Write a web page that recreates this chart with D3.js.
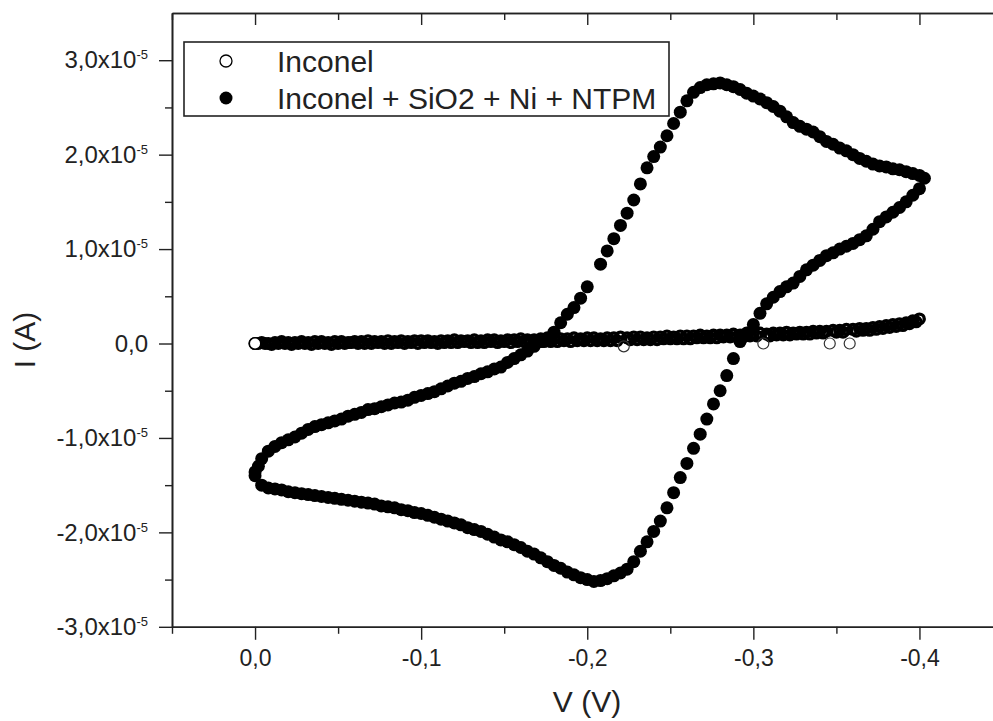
<!DOCTYPE html>
<html>
<head>
<meta charset="utf-8">
<script src="https://cdn.jsdelivr.net/npm/d3@7"></script>
<style>
body { margin: 0; background: #fff; }
svg { display: block; font-family: "Liberation Sans", Arial, sans-serif; }
</style>
</head>
<body>
<svg width="993" height="721"></svg>
<script>
// Current in units of 1e-5 A, potential in V. Pairs are [V, I].
const inconelForward = [
  [0, 0.00], [-0.004, 0.01], [-0.008, 0.00], [-0.012, 0.01], [-0.016, 0.02], [-0.020, 0.01], [-0.024, 0.01],
  [-0.028, 0.02], [-0.032, 0.01], [-0.036, 0.02], [-0.040, 0.02], [-0.044, 0.01], [-0.048, 0.02], [-0.052, 0.02],
  [-0.056, 0.01], [-0.060, 0.02], [-0.064, 0.02], [-0.068, 0.03], [-0.072, 0.02], [-0.076, 0.02], [-0.080, 0.03],
  [-0.084, 0.02], [-0.088, 0.03], [-0.092, 0.02], [-0.096, 0.03], [-0.100, 0.03], [-0.104, 0.03], [-0.108, 0.02],
  [-0.112, 0.03], [-0.116, 0.03], [-0.120, 0.04], [-0.124, 0.03], [-0.128, 0.03], [-0.132, 0.04], [-0.136, 0.03],
  [-0.140, 0.04], [-0.144, 0.04], [-0.148, 0.03], [-0.152, 0.04], [-0.156, 0.04], [-0.160, 0.05], [-0.164, 0.04],
  [-0.168, 0.04], [-0.172, 0.05], [-0.176, 0.04], [-0.180, 0.05], [-0.184, 0.05], [-0.188, 0.05], [-0.192, 0.06],
  [-0.196, 0.05], [-0.200, 0.06], [-0.204, 0.06], [-0.208, 0.05], [-0.212, 0.06], [-0.216, 0.06], [-0.220, 0.07],
  [-0.224, 0.06], [-0.228, 0.07], [-0.232, 0.07], [-0.236, 0.06], [-0.240, 0.07], [-0.244, 0.07], [-0.248, 0.08],
  [-0.252, 0.07], [-0.256, 0.08], [-0.260, 0.08], [-0.264, 0.08], [-0.268, 0.09], [-0.272, 0.08], [-0.276, 0.09],
  [-0.280, 0.09], [-0.284, 0.09], [-0.288, 0.10], [-0.292, 0.09], [-0.296, 0.10], [-0.300, 0.10], [-0.304, 0.11],
  [-0.308, 0.10], [-0.312, 0.11], [-0.316, 0.11], [-0.320, 0.12], [-0.324, 0.11], [-0.328, 0.12], [-0.332, 0.12],
  [-0.336, 0.13], [-0.340, 0.13], [-0.344, 0.13], [-0.348, 0.14], [-0.352, 0.14], [-0.356, 0.15], [-0.360, 0.15],
  [-0.364, 0.16], [-0.368, 0.16], [-0.372, 0.17], [-0.376, 0.18], [-0.380, 0.19], [-0.384, 0.20], [-0.388, 0.21],
  [-0.392, 0.22], [-0.396, 0.24], [-0.400, 0.26]
];
const inconelReverse = [
  [-0.398, 0.23], [-0.394, 0.21], [-0.390, 0.19], [-0.386, 0.18], [-0.382, 0.17], [-0.378, 0.16], [-0.374, 0.15],
  [-0.370, 0.14], [-0.366, 0.14], [-0.362, 0.13], [-0.354, 0.12], [-0.350, 0.12],
  [-0.342, 0.11], [-0.338, 0.11], [-0.334, 0.10], [-0.330, 0.10], [-0.326, 0.10], [-0.322, 0.09], [-0.318, 0.09],
  [-0.314, 0.09], [-0.310, 0.08], [-0.302, 0.08], [-0.298, 0.08], [-0.294, 0.07], [-0.290, 0.07],
  [-0.286, 0.07], [-0.282, 0.07], [-0.278, 0.06], [-0.274, 0.06], [-0.270, 0.06], [-0.266, 0.06], [-0.262, 0.05],
  [-0.258, 0.05], [-0.254, 0.05], [-0.250, 0.05], [-0.246, 0.05], [-0.242, 0.04], [-0.238, 0.04], [-0.234, 0.04],
  [-0.230, 0.04], [-0.226, 0.04], [-0.218, 0.03], [-0.214, 0.03], [-0.210, 0.03], [-0.206, 0.03],
  [-0.202, 0.03], [-0.198, 0.03], [-0.194, 0.03], [-0.190, 0.02], [-0.186, 0.03], [-0.182, 0.02], [-0.178, 0.02],
  [-0.174, 0.02], [-0.170, 0.02], [-0.166, 0.02], [-0.162, 0.02], [-0.158, 0.02], [-0.154, 0.01], [-0.150, 0.02],
  [-0.146, 0.01], [-0.142, 0.02], [-0.138, 0.01], [-0.134, 0.01], [-0.130, 0.01], [-0.126, 0.02], [-0.122, 0.01],
  [-0.118, 0.01], [-0.114, 0.01], [-0.110, 0.00], [-0.106, 0.01], [-0.102, 0.01], [-0.098, 0.00], [-0.094, 0.01],
  [-0.090, 0.00], [-0.086, 0.01], [-0.082, 0.00], [-0.078, 0.00], [-0.074, 0.01], [-0.070, 0.00], [-0.066, 0.00],
  [-0.062, 0.00], [-0.058, 0.01], [-0.054, 0.00], [-0.050, 0.00], [-0.046, -0.01], [-0.042, 0.00], [-0.038, 0.00],
  [-0.034, -0.01], [-0.030, 0.00], [-0.026, 0.00], [-0.022, -0.01], [-0.018, 0.00], [-0.014, 0.00], [-0.010, -0.01],
  [-0.006, 0.00], [-0.002, 0.00]
];
// stray Inconel points sitting just under the band
const inconelStray = [[-0.222, -0.03], [-0.306, 0.00], [-0.346, 0.00], [-0.358, 0.00]];

const ntpmForward = [
  [0, -1.40], [-0.004, -1.50], [-0.008, -1.53], [-0.012, -1.54], [-0.016, -1.55], [-0.020, -1.57], [-0.024, -1.58],
  [-0.028, -1.59], [-0.032, -1.60], [-0.036, -1.61], [-0.040, -1.62], [-0.044, -1.63], [-0.048, -1.64], [-0.052, -1.65],
  [-0.056, -1.66], [-0.060, -1.67], [-0.064, -1.68], [-0.068, -1.69], [-0.072, -1.70], [-0.076, -1.72], [-0.080, -1.73],
  [-0.084, -1.74], [-0.088, -1.76], [-0.092, -1.77], [-0.096, -1.79], [-0.100, -1.80], [-0.104, -1.82], [-0.108, -1.84],
  [-0.112, -1.86], [-0.116, -1.88], [-0.120, -1.90], [-0.124, -1.92], [-0.128, -1.95], [-0.132, -1.97], [-0.136, -1.99],
  [-0.140, -2.02], [-0.144, -2.05], [-0.148, -2.08], [-0.152, -2.10], [-0.156, -2.13], [-0.160, -2.16], [-0.164, -2.20],
  [-0.168, -2.23], [-0.172, -2.27], [-0.176, -2.31], [-0.180, -2.35], [-0.184, -2.38], [-0.188, -2.42], [-0.192, -2.45],
  [-0.196, -2.48], [-0.200, -2.50], [-0.204, -2.52], [-0.208, -2.51], [-0.212, -2.49], [-0.216, -2.46], [-0.220, -2.43],
  [-0.224, -2.39], [-0.228, -2.31], [-0.232, -2.20], [-0.236, -2.10], [-0.240, -1.99], [-0.244, -1.88], [-0.248, -1.74],
  [-0.252, -1.58], [-0.256, -1.42], [-0.260, -1.27], [-0.264, -1.11], [-0.268, -0.96], [-0.272, -0.80], [-0.276, -0.64],
  [-0.280, -0.50], [-0.284, -0.34], [-0.288, -0.16], [-0.292, 0.02], [-0.296, 0.11], [-0.300, 0.20], [-0.304, 0.32],
  [-0.308, 0.42], [-0.312, 0.49], [-0.316, 0.55], [-0.320, 0.60], [-0.324, 0.64], [-0.328, 0.71], [-0.332, 0.78],
  [-0.336, 0.83], [-0.340, 0.88], [-0.344, 0.93], [-0.348, 0.96], [-0.352, 1.00], [-0.356, 1.03], [-0.360, 1.06],
  [-0.364, 1.10], [-0.368, 1.14], [-0.372, 1.21], [-0.376, 1.29], [-0.380, 1.34], [-0.384, 1.39], [-0.388, 1.44],
  [-0.392, 1.50], [-0.396, 1.57], [-0.400, 1.64], [-0.403, 1.75]
];
const ntpmReverse = [
  [-0.400, 1.78], [-0.396, 1.80], [-0.392, 1.82], [-0.388, 1.84], [-0.384, 1.85], [-0.380, 1.87], [-0.376, 1.88],
  [-0.372, 1.90], [-0.368, 1.93], [-0.364, 1.96], [-0.360, 2.00], [-0.356, 2.04], [-0.352, 2.07], [-0.348, 2.11],
  [-0.344, 2.14], [-0.340, 2.19], [-0.336, 2.24], [-0.332, 2.27], [-0.328, 2.30], [-0.324, 2.34], [-0.320, 2.40],
  [-0.316, 2.46], [-0.312, 2.51], [-0.308, 2.55], [-0.304, 2.59], [-0.300, 2.62], [-0.296, 2.65], [-0.292, 2.69],
  [-0.288, 2.72], [-0.284, 2.74], [-0.280, 2.76], [-0.276, 2.75], [-0.272, 2.74], [-0.268, 2.71], [-0.264, 2.66],
  [-0.260, 2.57], [-0.256, 2.45], [-0.252, 2.33], [-0.248, 2.20], [-0.244, 2.08], [-0.240, 1.98], [-0.236, 1.86],
  [-0.232, 1.69], [-0.228, 1.52], [-0.224, 1.38], [-0.220, 1.25], [-0.216, 1.11], [-0.212, 0.98], [-0.208, 0.84],
  [-0.200, 0.60], [-0.196, 0.48], [-0.192, 0.38], [-0.188, 0.31], [-0.184, 0.22], [-0.180, 0.12], [-0.176, 0.06],
  [-0.172, 0.02], [-0.168, -0.03], [-0.164, -0.08], [-0.160, -0.12], [-0.156, -0.16], [-0.152, -0.20], [-0.148, -0.25],
  [-0.144, -0.27], [-0.140, -0.30], [-0.136, -0.32], [-0.132, -0.35], [-0.128, -0.37], [-0.124, -0.40], [-0.120, -0.42],
  [-0.116, -0.45], [-0.112, -0.48], [-0.108, -0.51], [-0.104, -0.53], [-0.100, -0.55], [-0.096, -0.57], [-0.092, -0.60],
  [-0.088, -0.62], [-0.084, -0.63], [-0.080, -0.65], [-0.076, -0.67], [-0.072, -0.69], [-0.068, -0.70], [-0.064, -0.73],
  [-0.060, -0.75], [-0.056, -0.77], [-0.052, -0.80], [-0.048, -0.82], [-0.044, -0.84], [-0.040, -0.86], [-0.036, -0.88],
  [-0.032, -0.91], [-0.028, -0.95], [-0.024, -0.99], [-0.020, -1.02], [-0.016, -1.05], [-0.012, -1.09], [-0.008, -1.14],
  [-0.004, -1.22], [-0.002, -1.30], [0, -1.36]
];

const xTickValues = [0, -0.1, -0.2, -0.3, -0.4];
const xTickLabels = ["0,0", "-0,1", "-0,2", "-0,3", "-0,4"];
const xMinorTicks = [0.05, -0.05, -0.15, -0.25, -0.35, -0.45];
const yTickValues = [-3, -2, -1, 0, 1, 2, 3];
const yTickLabels = ["-3,0x10", "-2,0x10", "-1,0x10", "0,0", "1,0x10", "2,0x10", "3,0x10"];
const yMinorTicks = [-2.5, -1.5, -0.5, 0.5, 1.5, 2.5];
const seriesNames = ["Inconel", "Inconel + SiO2 + Ni + NTPM"];

const svg = d3.select("svg"),
    margin = { top: 13, left: 172 },
    width = 830.5,
    height = 613.8,
    g = svg.append("g").attr("transform", `translate(${margin.left},${margin.top})`);

const ink = "#222";

const x = d3.scaleLinear().domain([0.05, -0.45]).range([0, width]),
    y = d3.scaleLinear().domain([-3, 3.5]).range([height, 0]);

function styleAxis(sel) {
    sel.select(".domain").attr("stroke", ink).attr("stroke-width", 1.6);
    sel.selectAll(".tick line").attr("stroke", ink).attr("stroke-width", 1.4);
    sel.selectAll(".tick text").attr("fill", ink);
}

// bottom axis
g.append("g").attr("transform", `translate(0,${height})`)
    .call(d3.axisBottom(x).tickValues(xMinorTicks).tickSize(7).tickSizeOuter(0).tickFormat(""))
    .call(styleAxis);
g.append("g").attr("transform", `translate(0,${height})`)
    .call(d3.axisBottom(x).tickValues(xTickValues).tickSize(13).tickSizeOuter(0).tickPadding(10)
        .tickFormat((d, i) => xTickLabels[i]))
    .call(styleAxis)
    .call(a => a.selectAll(".tick text").attr("font-size", 23).attr("font-family", "Liberation Sans, Arial, sans-serif"));

// top axis (ticks inward)
g.append("g")
    .call(d3.axisTop(x).tickValues(xMinorTicks).tickSize(-7).tickSizeOuter(0).tickFormat(""))
    .call(styleAxis);
g.append("g")
    .call(d3.axisTop(x).tickValues(xTickValues).tickSize(-12).tickSizeOuter(0).tickFormat(""))
    .call(styleAxis);

// left axis
g.append("g")
    .call(d3.axisLeft(y).tickValues(yMinorTicks).tickSize(7).tickSizeOuter(0).tickFormat(""))
    .call(styleAxis);
const yAxis = g.append("g")
    .call(d3.axisLeft(y).tickValues(yTickValues).tickSize(13).tickSizeOuter(0).tickPadding(11)
        .tickFormat((d, i) => yTickLabels[i]))
    .call(styleAxis);
yAxis.selectAll(".tick text")
    .attr("font-size", 24)
    .attr("font-family", "Liberation Sans, Arial, sans-serif")
    .each(function(d) {
        if (d === 0) return;
        d3.select(this).append("tspan")
            .attr("font-size", 13)
            .attr("dy", -9)
            .text("-5");
    });

// Inconel, open circles (dense, so the band reads almost solid)
const plot = g.append("g");
plot.selectAll(".inconel")
    .data(inconelForward.concat(inconelReverse))
    .enter().append("circle")
    .attr("class", "inconel")
    .attr("cx", d => x(d[0]))
    .attr("cy", d => y(d[1]))
    .attr("r", 4.8)
    .attr("fill", "none")
    .attr("stroke", "#000")
    .attr("stroke-width", 3.4);
plot.selectAll(".stray")
    .data(inconelStray)
    .enter().append("circle")
    .attr("class", "stray")
    .attr("cx", d => x(d[0]))
    .attr("cy", d => y(d[1]))
    .attr("r", 5.5)
    .attr("fill", "none")
    .attr("stroke", "#333")
    .attr("stroke-width", 1.2);

// Inconel + SiO2 + Ni + NTPM, filled circles
plot.selectAll(".ntpm")
    .data(ntpmForward.concat(ntpmReverse))
    .enter().append("circle")
    .attr("class", "ntpm")
    .attr("cx", d => x(d[0]))
    .attr("cy", d => y(d[1]))
    .attr("r", 6.5)
    .attr("fill", "#000");

// first Inconel point stays visible as an open ring on top
plot.append("circle")
    .datum(inconelForward[0])
    .attr("cx", d => x(d[0]))
    .attr("cy", d => y(d[1]))
    .attr("r", 5.8)
    .attr("fill", "#fff")
    .attr("stroke", "#000")
    .attr("stroke-width", 1.6);

// axis titles
svg.append("text")
    .attr("x", 587).attr("y", 712)
    .attr("text-anchor", "middle")
    .attr("font-size", 30)
    .attr("fill", ink)
    .text("V (V)");
svg.append("text")
    .attr("transform", "translate(35,340) rotate(-90)")
    .attr("text-anchor", "middle")
    .attr("font-size", 30)
    .attr("fill", ink)
    .text("I (A)");

// legend
const legend = svg.append("g");
legend.append("rect")
    .attr("x", 184).attr("y", 42).attr("width", 485).attr("height", 74)
    .attr("fill", "#fff").attr("stroke", ink).attr("stroke-width", 1.6);
const items = legend.selectAll(".item")
    .data(seriesNames)
    .enter().append("g")
    .attr("class", "item")
    .attr("transform", (d, i) => `translate(0,${61 + i * 37})`);
items.append("circle")
    .attr("cx", 226).attr("cy", 0)
    .attr("r", (d, i) => i === 0 ? 6 : 6.5)
    .attr("fill", (d, i) => i === 0 ? "#fff" : "#000")
    .attr("stroke", "#000")
    .attr("stroke-width", (d, i) => i === 0 ? 1.3 : 0);
items.append("text")
    .attr("x", 277).attr("y", 11)
    .attr("font-size", 30)
    .attr("fill", ink)
    .text(d => d);
</script>
</body>
</html>
